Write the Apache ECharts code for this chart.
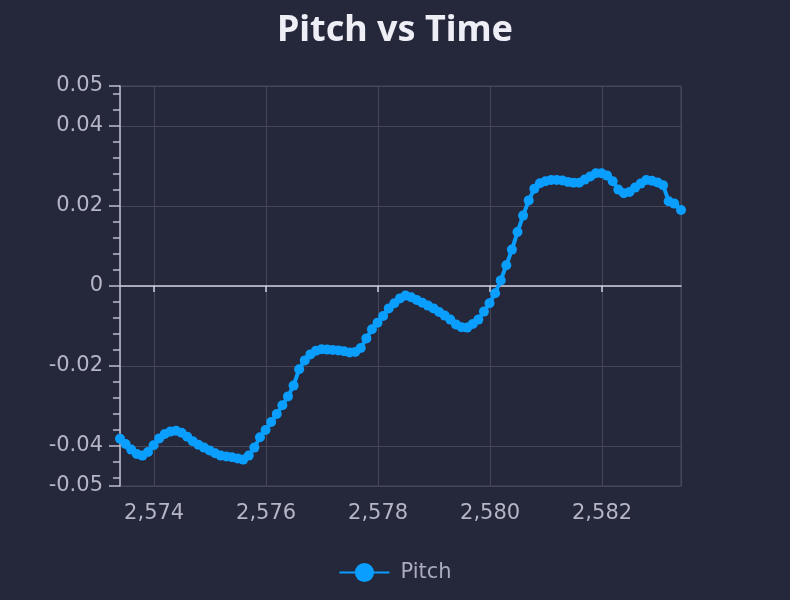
<!DOCTYPE html>
<html><head><meta charset="utf-8">
<script src="https://cdn.jsdelivr.net/npm/echarts@6/dist/echarts.min.js"></script>
<style>html,body{margin:0;padding:0;background:#25273b}#c{width:790px;height:600px}</style>
</head><body><div id="c"></div><script>
const times = [
  2573.39, 2573.49, 2573.59, 2573.69, 2573.79, 2573.89, 2573.99, 2574.09, 2574.19, 2574.29,
  2574.39, 2574.49, 2574.59, 2574.69, 2574.79, 2574.89, 2574.99, 2575.09, 2575.19, 2575.29,
  2575.39, 2575.49, 2575.59, 2575.69, 2575.79, 2575.89, 2575.99, 2576.09, 2576.19, 2576.29,
  2576.39, 2576.49, 2576.59, 2576.69, 2576.79, 2576.89, 2576.99, 2577.09, 2577.19, 2577.29,
  2577.39, 2577.49, 2577.59, 2577.69, 2577.79, 2577.89, 2577.99, 2578.09, 2578.19, 2578.29,
  2578.39, 2578.49, 2578.59, 2578.69, 2578.79, 2578.89, 2578.99, 2579.09, 2579.19, 2579.29,
  2579.39, 2579.49, 2579.59, 2579.69, 2579.79, 2579.89, 2579.99, 2580.09, 2580.19, 2580.29,
  2580.39, 2580.49, 2580.59, 2580.69, 2580.79, 2580.89, 2580.99, 2581.09, 2581.19, 2581.29,
  2581.39, 2581.49, 2581.59, 2581.69, 2581.79, 2581.89, 2581.99, 2582.09, 2582.19, 2582.29,
  2582.39, 2582.49, 2582.59, 2582.69, 2582.79, 2582.89, 2582.99, 2583.09, 2583.19, 2583.29,
  2583.41
];
const pitch = [
  -0.0382, -0.0395, -0.0409, -0.0420, -0.0424, -0.0415, -0.0398, -0.0381, -0.0370, -0.0364,
  -0.0362, -0.0367, -0.0377, -0.0388, -0.0397, -0.0404, -0.0411, -0.0418, -0.0424, -0.0426,
  -0.0428, -0.0431, -0.0434, -0.0424, -0.0404, -0.0378, -0.0360, -0.0340, -0.0320, -0.0298,
  -0.0276, -0.0249, -0.0208, -0.0186, -0.0171, -0.0162, -0.0158, -0.0159, -0.0160, -0.0161,
  -0.0163, -0.0166, -0.0165, -0.0155, -0.0131, -0.0108, -0.0092, -0.0075, -0.0056, -0.0043,
  -0.0031, -0.0024, -0.0028, -0.0035, -0.0042, -0.0049, -0.0056, -0.0065, -0.0074, -0.0084,
  -0.0096, -0.0103, -0.0104, -0.0095, -0.0084, -0.0064, -0.0043, -0.0018, 0.0014, 0.0052,
  0.0091, 0.0135, 0.0176, 0.0214, 0.0243, 0.0257, 0.0262, 0.0265, 0.0265, 0.0264,
  0.0260, 0.0258, 0.0258, 0.0266, 0.0274, 0.0282, 0.0282, 0.0276, 0.0262, 0.0241,
  0.0232, 0.0235, 0.0246, 0.0256, 0.0265, 0.0263, 0.0259, 0.0252, 0.0212, 0.0206,
  0.0190
];
const xMin = 2573.39, xMax = 2583.41;
const yMin = -0.05, yMax = 0.05;
const xTickValues = [2574, 2576, 2578, 2580, 2582];
const yMinorTicks = [-0.048, -0.044, -0.036, -0.032, -0.028, -0.024, -0.016, -0.012, -0.008, -0.004,
  0.004, 0.008, 0.012, 0.016, 0.024, 0.028, 0.032, 0.036, 0.044, 0.048];

const TITLE_FONT = 'Noto Sans';
const FONT = 'DejaVu Sans';
const labelColor = '#b4b6c6';
const gridColor = '#46485a';
const axisColor = '#bcbdce';

const chart = echarts.init(document.getElementById('c'), null, {renderer: 'canvas'});
chart.setOption({
  backgroundColor: '#25273b',
  animation: false,
  title: {
    text: 'Pitch vs Time', left: 'center', top: 8,
    textStyle: {color: '#eeeef6', fontSize: 36, fontWeight: 'bold', fontFamily: TITLE_FONT}
  },
  legend: {
    data: ['Pitch'], bottom: 12, left: 'center', itemWidth: 50, itemHeight: 24, itemGap: 10,
    textStyle: {color: '#a9abbd', fontSize: 21, fontFamily: FONT, padding: [0, 0, 0, 6]}
  },
  grid: {left: 120, right: 109, top: 86, bottom: 114, show: true, borderColor: gridColor, borderWidth: 1, backgroundColor: 'transparent'},
  xAxis: [
    {
      type: 'value', min: xMin, max: xMax, position: 'bottom',
      axisLine: {show: false, onZero: false},
      axisTick: {show: false},
      axisLabel: {color: labelColor, fontSize: 21, fontFamily: FONT, margin: 17, showMinLabel: false, showMaxLabel: false},
      splitLine: {show: true, lineStyle: {color: gridColor, width: 1}}
    },
    {
      type: 'value', min: xMin, max: xMax, position: 'bottom',
      axisLine: {show: true, onZero: true, onZeroAxisIndex: 0, lineStyle: {color: '#d0d1df', width: 1.5}},
      axisTick: {show: true, length: 6, customValues: xTickValues, lineStyle: {color: '#d0d1df', width: 1.5}},
      axisLabel: {show: false},
      splitLine: {show: false}
    }
  ],
  yAxis: [
    {
      type: 'value', min: yMin, max: yMax, position: 'left',
      axisLine: {show: true, lineStyle: {color: axisColor, width: 1.5}},
      axisTick: {show: true, length: 11, lineStyle: {color: axisColor, width: 1.5}},
      axisLabel: {color: labelColor, fontSize: 21, fontFamily: FONT, margin: 17, padding: [0, 0, 4, 0]},
      splitLine: {show: true, lineStyle: {color: gridColor, width: 1}}
    },
    {
      type: 'value', min: yMin, max: yMax, position: 'left', offset: 0,
      axisLine: {show: false},
      axisTick: {show: true, length: 7, customValues: yMinorTicks, lineStyle: {color: axisColor, width: 1.5}},
      axisLabel: {show: false},
      splitLine: {show: false}
    }
  ],
  series: [{
    name: 'Pitch', type: 'line', xAxisIndex: 0, yAxisIndex: 0,
    data: times.map((t, i) => [t, pitch[i]]),
    symbol: 'circle', symbolSize: 10, showSymbol: true, showAllSymbol: true,
    lineStyle: {width: 4, color: '#0a9eff'},
    itemStyle: {color: '#0a9eff'},
    z: 5
  }]
});
</script></body></html>
